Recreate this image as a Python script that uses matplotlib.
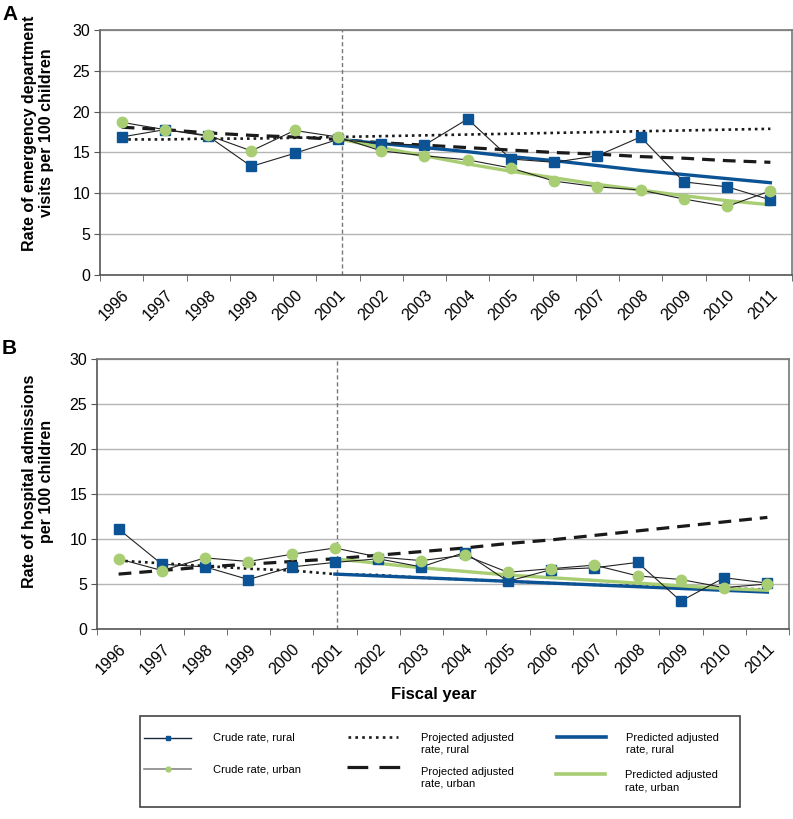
import numpy as np
import matplotlib.pyplot as plt
from matplotlib.lines import Line2D
from matplotlib.patches import Rectangle

plt.rcParams['font.family'] = ['Liberation Sans', 'DejaVu Sans']

# Data
years = ['1996', '1997', '1998', '1999', '2000', '2001', '2002', '2003',
         '2004', '2005', '2006', '2007', '2008', '2009', '2010', '2011']
pred_years = years[5:]

# Panel A: emergency department visits per 100 children
a_crude_rural = [16.9, 17.8, 17.0, 13.3, 14.9, 16.6, 16.1, 15.9, 19.1, 14.2, 13.8, 14.6, 16.9, 11.4, 10.8, 9.2]
a_crude_urban = [18.7, 17.8, 17.1, 15.2, 17.7, 16.9, 15.2, 14.6, 14.1, 13.1, 11.5, 10.8, 10.4, 9.3, 8.4, 10.3]
a_proj_rural = [16.6, 16.6, 16.7, 16.7, 16.8, 16.9, 17.0, 17.1, 17.2, 17.3, 17.4, 17.5, 17.6, 17.7, 17.8, 17.9]
a_proj_urban = [18.1, 17.8, 17.4, 17.1, 16.9, 16.6, 16.2, 15.9, 15.6, 15.3, 15.0, 14.8, 14.5, 14.3, 14.0, 13.8]
a_pred_rural = [16.6, 16.1, 15.6, 15.1, 14.5, 14.0, 13.4, 12.8, 12.3, 11.8, 11.3]
a_pred_urban = [16.7, 15.6, 14.6, 13.6, 12.7, 11.9, 11.1, 10.4, 9.7, 9.1, 8.6]

# Panel B: hospital admissions per 100 children
b_crude_rural = [11.1, 7.2, 6.9, 5.5, 6.9, 7.4, 7.8, 6.9, 8.5, 5.3, 6.6, 6.8, 7.4, 3.1, 5.7, 5.1]
b_crude_urban = [7.8, 6.5, 7.9, 7.5, 8.3, 9.0, 8.0, 7.6, 8.2, 6.3, 6.7, 7.1, 5.9, 5.5, 4.6, 5.0]
b_proj_rural = [7.6, 7.3, 7.0, 6.7, 6.5, 6.1, 6.0, 5.7, 5.5, 5.3, 5.1, 4.9, 4.8, 4.6, 4.5, 4.4]
b_proj_urban = [6.1, 6.5, 6.9, 7.2, 7.5, 7.8, 8.2, 8.6, 9.0, 9.5, 9.9, 10.4, 10.9, 11.4, 11.9, 12.4]
b_pred_rural = [6.1, 5.9, 5.7, 5.5, 5.3, 5.1, 4.9, 4.7, 4.5, 4.3, 4.1]
b_pred_urban = [7.8, 7.3, 6.8, 6.4, 6.0, 5.7, 5.4, 5.1, 4.8, 4.5, 4.3]

BLUE = '#0b5394'
GREEN = '#a8cd72'
DOT = (0, (1, 1.5))
DASH = (0, (4, 2.5))


def draw_panel(ax, crude_r, crude_u, proj_r, proj_u, pred_r, pred_u, vline_x):
    x = np.arange(len(years))
    xp = np.arange(len(years) - len(pred_years), len(years))
    ax.plot(x, proj_r, color='#1a1a1a', lw=1.9, linestyle=DOT, zorder=3)
    ax.plot(x, proj_u, color='#1a1a1a', lw=2.3, linestyle=DASH, zorder=3)
    ax.plot(xp, pred_r, color=BLUE, lw=2.4, zorder=4)
    ax.plot(xp, pred_u, color=GREEN, lw=2.4, zorder=4)
    ax.plot(x, crude_r, color='#222222', lw=0.8, marker='s', ms=7.5,
            mfc=BLUE, mec=BLUE, zorder=5)
    ax.plot(x, crude_u, color='#222222', lw=0.8, marker='o', ms=7.5,
            mfc=GREEN, mec=GREEN, zorder=5)
    ax.axvline(vline_x, color='#777777', lw=1, linestyle=(0, (3, 2)), zorder=2)

    ax.set_xlim(-0.5, len(years) - 0.5)
    ax.set_ylim(0, 30)
    ax.set_yticks(range(0, 31, 5))
    ax.yaxis.grid(True, color='#b5b5b5', lw=1)
    ax.set_axisbelow(True)
    ax.set_xticks(x)
    ax.set_xticklabels(years, rotation=45, ha='right', va='top',
                       rotation_mode='anchor')
    ax.set_xticks(np.arange(-0.5, len(years)), minor=True)
    ax.tick_params(axis='x', which='major', length=0, pad=9, labelsize=11.5)
    ax.tick_params(axis='x', which='minor', length=4, color='#555555')
    ax.tick_params(axis='y', length=4, color='#555555', labelsize=11.5, pad=3)
    for s in ['left', 'bottom']:
        ax.spines[s].set_color('#555555')
        ax.spines[s].set_linewidth(1.2)
    for s in ['top', 'right']:
        ax.spines[s].set_color('#777777')
        ax.spines[s].set_linewidth(1.2)


fig = plt.figure(figsize=(7.93, 8.19), dpi=100)
W, H = 793.0, 819.0
axA = fig.add_axes([100 / W, 1 - 275 / H, 692 / W, 245 / H])
axB = fig.add_axes([97 / W, 1 - 629 / H, 692 / W, 270 / H])

draw_panel(axA, a_crude_rural, a_crude_urban, a_proj_rural, a_proj_urban,
           a_pred_rural, a_pred_urban, 5.1)
draw_panel(axB, b_crude_rural, b_crude_urban, b_proj_rural, b_proj_urban,
           b_pred_rural, b_pred_urban, 5.06)

fig.text(38 / W, 1 - 133 / H, 'Rate of emergency department\nvisits per 100 children',
         rotation=90, ha='center', va='center', fontsize=11.5, fontweight='bold',
         multialignment='center', linespacing=1.1)
fig.text(38 / W, 1 - 481 / H, 'Rate of hospital admissions\nper 100 children',
         rotation=90, ha='center', va='center', fontsize=11.5, fontweight='bold',
         multialignment='center', linespacing=1.1)
fig.text(2 / W, 1 - 14 / H, 'A', fontsize=15, fontweight='bold', va='center')
fig.text(2 / W, 1 - 348 / H, 'B', fontsize=15, fontweight='bold', va='center')
fig.text(434 / W, 1 - 694 / H, 'Fiscal year', fontsize=12, fontweight='bold',
         ha='center', va='center')

# legend box, laid out by hand (pixel positions from the reference)
fig.patches.append(Rectangle((140 / W, 1 - 807 / H), 600 / W, 91 / H,
                             transform=fig.transFigure, fill=False,
                             edgecolor='#444444', lw=1.2))


def legend_entry(x0, x1, y, tx, ty, text, **style):
    fy = 1 - y / H
    fig.add_artist(Line2D([x0 / W, x1 / W], [fy, fy], transform=fig.transFigure, **style))
    fig.text(tx / W, 1 - ty / H, text, fontsize=8, va='center', ha='left',
             linespacing=1.25)


legend_entry(144, 191, 738, 213, 738, 'Crude rate, rural', color='#1a2a3a', lw=1)
fig.add_artist(Line2D([167.5 / W], [1 - 738 / H], transform=fig.transFigure,
                      marker='s', ms=3.5, mfc=BLUE, mec=BLUE, ls='none'))
legend_entry(144, 191, 769, 213, 769, 'Crude rate, urban', color='#888888', lw=1.2)
fig.add_artist(Line2D([167.5 / W], [1 - 769 / H], transform=fig.transFigure,
                      marker='o', ms=3.5, mfc=GREEN, mec=GREEN, ls='none'))
legend_entry(348, 398, 737, 421, 744, 'Projected adjusted\nrate, rural',
             color='#1a1a1a', lw=1.9, linestyle=(0, (1, 1.6)))
legend_entry(347, 401, 767, 421, 778, 'Projected adjusted\nrate, urban',
             color='#1a1a1a', lw=2.3, linestyle=(0, (6.5, 3.5)))
legend_entry(557, 606, 737, 626, 744, 'Predicted adjusted\nrate, rural',
             color=BLUE, lw=2.6)
legend_entry(556, 605, 774, 625, 781, 'Predicted adjusted\nrate, urban',
             color=GREEN, lw=2.6)

fig.savefig('out.png', dpi=100)
